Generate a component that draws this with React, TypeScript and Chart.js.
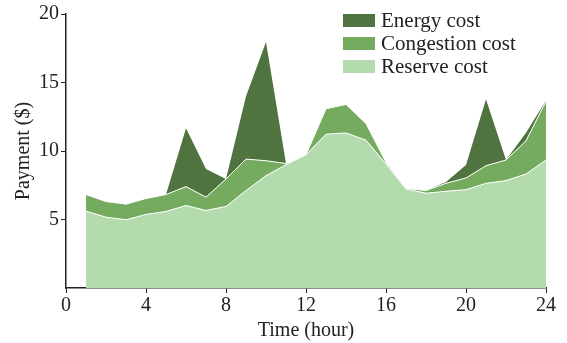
import React, { useEffect, useRef } from "react";
import { Chart, registerables } from "chart.js";

Chart.register(...registerables);

const hours = [1, 2, 3, 4, 5, 6, 7, 8, 9, 10, 11, 12, 13, 14, 15, 16, 17, 18, 19, 20, 21, 22, 23, 24];
const reserveCost = [5.61, 5.17, 4.98, 5.37, 5.59, 6.02, 5.66, 5.95, 7.11, 8.2, 9.0, 9.72, 11.22, 11.32, 10.79, 9.05, 7.23, 6.92, 7.06, 7.18, 7.64, 7.84, 8.32, 9.34];
const congestionCost = [1.21, 1.14, 1.14, 1.16, 1.23, 1.38, 0.97, 2.01, 2.3, 1.09, 0.09, 0.0, 1.86, 2.08, 1.21, 0.12, 0.05, 0.19, 0.58, 0.85, 1.29, 1.5, 2.42, 4.3];
const energyCost = [0, 0, 0, 0, 0, 4.26, 2.06, 0, 4.59, 8.66, 0, 0, 0, 0, 0, 0, 0, 0, 0.1, 0.95, 4.84, 0, 0.6, 0.05];

const xTicks = [0, 4, 8, 12, 16, 20, 24];
const yTicks = [5, 10, 15, 20];

const COLORS = {
  energy: "#4f743f",
  congestion: "#74ab5e",
  reserve: "#b4dbae",
};

const FONT = "'Liberation Serif', 'Times New Roman', serif";

// Legend drawn inside the plot area, top right, in reverse stacking order
const insideLegend = {
  id: "insideLegend",
  afterDraw(chart: any) {
    const { ctx, chartArea } = chart;
    const items = [
      { label: "Energy cost", color: COLORS.energy },
      { label: "Congestion cost", color: COLORS.congestion },
      { label: "Reserve cost", color: COLORS.reserve },
    ];
    const boxX = chartArea.left + 277;
    const boxW = 32;
    const boxH = 13;
    const rowH = 23;
    const top = chartArea.top;
    ctx.save();
    ctx.font = `21px ${FONT}`;
    ctx.textBaseline = "middle";
    ctx.textAlign = "left";
    items.forEach((it, i) => {
      const cy = top + 6.5 + i * rowH;
      ctx.fillStyle = it.color;
      ctx.fillRect(boxX, cy - boxH / 2, boxW, boxH);
      ctx.fillStyle = "#222";
      ctx.fillText(it.label, boxX + boxW + 6, cy + 1);
    });
    ctx.restore();
  },
};

export default function App() {
  const canvasRef = useRef<HTMLCanvasElement | null>(null);

  useEffect(() => {
    document.body.style.margin = "0";
    const canvas = canvasRef.current;
    if (!canvas) return;

    const toPoints = (vals: number[]) => hours.map((h, i) => ({ x: h, y: vals[i] }));

    const chart = new Chart(canvas, {
      type: "line",
      data: {
        datasets: [
          {
            label: "Reserve cost",
            data: toPoints(reserveCost),
            backgroundColor: COLORS.reserve,
            borderColor: "#ffffff",
            borderWidth: 1,
            pointRadius: 0,
            fill: "origin",
            tension: 0,
          },
          {
            label: "Congestion cost",
            data: toPoints(congestionCost),
            backgroundColor: COLORS.congestion,
            borderColor: "#ffffff",
            borderWidth: 1,
            pointRadius: 0,
            fill: "-1",
            tension: 0,
          },
          {
            label: "Energy cost",
            data: toPoints(energyCost),
            backgroundColor: COLORS.energy,
            borderColor: "rgba(255,255,255,0)",
            borderWidth: 0,
            pointRadius: 0,
            fill: "-1",
            tension: 0,
          },
        ],
      },
      options: {
        animation: false,
        responsive: false,
        maintainAspectRatio: false,
        layout: { padding: { top: 12, right: 21, left: 0, bottom: 0 } },
        plugins: {
          legend: { display: false },
          tooltip: { enabled: false },
        },
        scales: {
          x: {
            type: "linear",
            min: 0,
            max: 24,
            afterFit(scale: any) {
              scale.height = 55;
            },
            afterBuildTicks(scale: any) {
              scale.ticks = xTicks.map((v) => ({ value: v }));
            },
            grid: {
              drawOnChartArea: false,
              drawTicks: true,
              tickLength: 5,
              color: "#222",
            },
            border: { display: true, color: "#222", width: 1.5 },
            ticks: {
              color: "#222",
              font: { family: FONT, size: 20 },
              padding: 1,
              maxRotation: 0,
            },
            title: {
              display: true,
              text: "Time (hour)",
              color: "#222",
              font: { family: FONT, size: 20 },
              padding: { top: 0, bottom: 0 },
            },
          },
          y: {
            type: "linear",
            stacked: true,
            min: 0,
            max: 20,
            afterFit(scale: any) {
              scale.width = 66;
            },
            afterBuildTicks(scale: any) {
              scale.ticks = yTicks.map((v) => ({ value: v }));
            },
            grid: {
              drawOnChartArea: false,
              drawTicks: true,
              tickLength: 5,
              color: "#222",
            },
            border: { display: true, color: "#222", width: 1.5 },
            ticks: {
              color: "#222",
              font: { family: FONT, size: 20 },
              padding: 2,
            },
            title: {
              display: true,
              text: "Payment ($)",
              color: "#222",
              font: { family: FONT, size: 20 },
              padding: { top: 12, bottom: 0 },
            },
          },
        },
      },
      plugins: [insideLegend],
    } as any);

    return () => chart.destroy();
  }, []);

  return (
    <div style={{ width: 567, height: 343 }}>
      <canvas ref={canvasRef} width={567} height={343} style={{ display: "block" }} />
    </div>
  );
}
